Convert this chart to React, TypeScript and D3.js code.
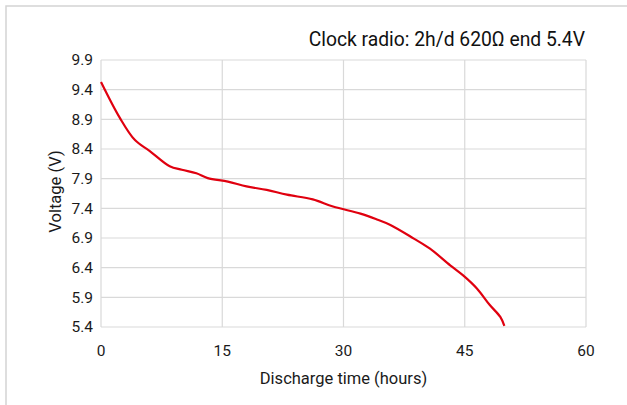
import * as React from "react"
import * as d3 from "d3"

const hours = [0, 2.35, 4.2, 6, 8.5, 10, 11.8, 13.2, 15.7, 18, 20.5, 23, 26.2, 28.7, 32.1, 34, 35.8, 38.7, 40.7, 43.2, 44.8, 46.5, 48.1, 49.4, 49.9]
const volts = [9.53, 8.92, 8.55, 8.37, 8.11, 8.05, 7.99, 7.91, 7.85, 7.77, 7.71, 7.63, 7.55, 7.43, 7.31, 7.22, 7.12, 6.89, 6.72, 6.44, 6.27, 6.05, 5.77, 5.57, 5.42]
const xTicks = [0, 15, 30, 45, 60]
const yTicks = [5.4, 5.9, 6.4, 6.9, 7.4, 7.9, 8.4, 8.9, 9.4, 9.9]
const title = "Clock radio: 2h/d 620Ω end 5.4V"

const W = 627
const H = 405
const margin = { top: 60, right: 41, bottom: 78, left: 101 }
const font = "Roboto, 'DejaVu Sans Condensed', sans-serif"

export default function App() {
  const innerW = W - margin.left - margin.right
  const innerH = H - margin.top - margin.bottom

  const x = d3.scaleLinear().domain([0, 60]).range([0, innerW])
  const y = d3.scaleLinear().domain([5.4, 9.9]).range([innerH, 0])

  const pts = hours.map((h, i) => [h, volts[i]] as [number, number])
  const line = d3
    .line<[number, number]>()
    .x((d) => x(d[0]))
    .y((d) => y(d[1]))
    .curve(d3.curveCatmullRom.alpha(0.5))

  return (
    <svg
      width={W}
      height={H}
      style={{ position: "absolute", left: 0, top: 0, background: "#fff" }}
      fontFamily={font}
    >
      <rect x={6} y={6} width={W + 20} height={H + 20} fill="#fff" stroke="#d4d4d4" strokeWidth={1.5} />
      <text x={W - margin.right - 1} y={46} textAnchor="end" fontSize={19.3} fill="#111">
        {title}
      </text>
      <g transform={`translate(${margin.left},${margin.top})`}>
        {yTicks.map((t) => (
          <g key={"y" + t}>
            <line x1={0} x2={innerW} y1={y(t)} y2={y(t)} stroke="#d9d9d9" strokeWidth={1.2} />
            <text x={-8} y={y(t)} dy="0.35em" textAnchor="end" fontSize={15.5} fill="#1a1a1a">
              {t.toFixed(1)}
            </text>
          </g>
        ))}
        {xTicks.map((t) => (
          <g key={"x" + t}>
            <line x1={x(t)} x2={x(t)} y1={0} y2={innerH} stroke="#d9d9d9" strokeWidth={1.2} />
            <text x={x(t)} y={innerH + 24} dy="0.35em" textAnchor="middle" fontSize={15.5} fill="#1a1a1a">
              {t}
            </text>
          </g>
        ))}
        <path d={line(pts) || ""} fill="none" stroke="#e0000f" strokeWidth={2.2} strokeLinejoin="round" />
        <text x={innerW / 2} y={innerH + 51} dy="0.35em" textAnchor="middle" fontSize={16.5} fill="#1a1a1a">
          Discharge time (hours)
        </text>
        <text
          transform={`translate(${-46},${innerH / 2 - 2}) rotate(-90)`}
          dy="0.35em"
          textAnchor="middle"
          fontSize={16.5}
          fill="#1a1a1a"
        >
          Voltage (V)
        </text>
      </g>
    </svg>
  )
}
